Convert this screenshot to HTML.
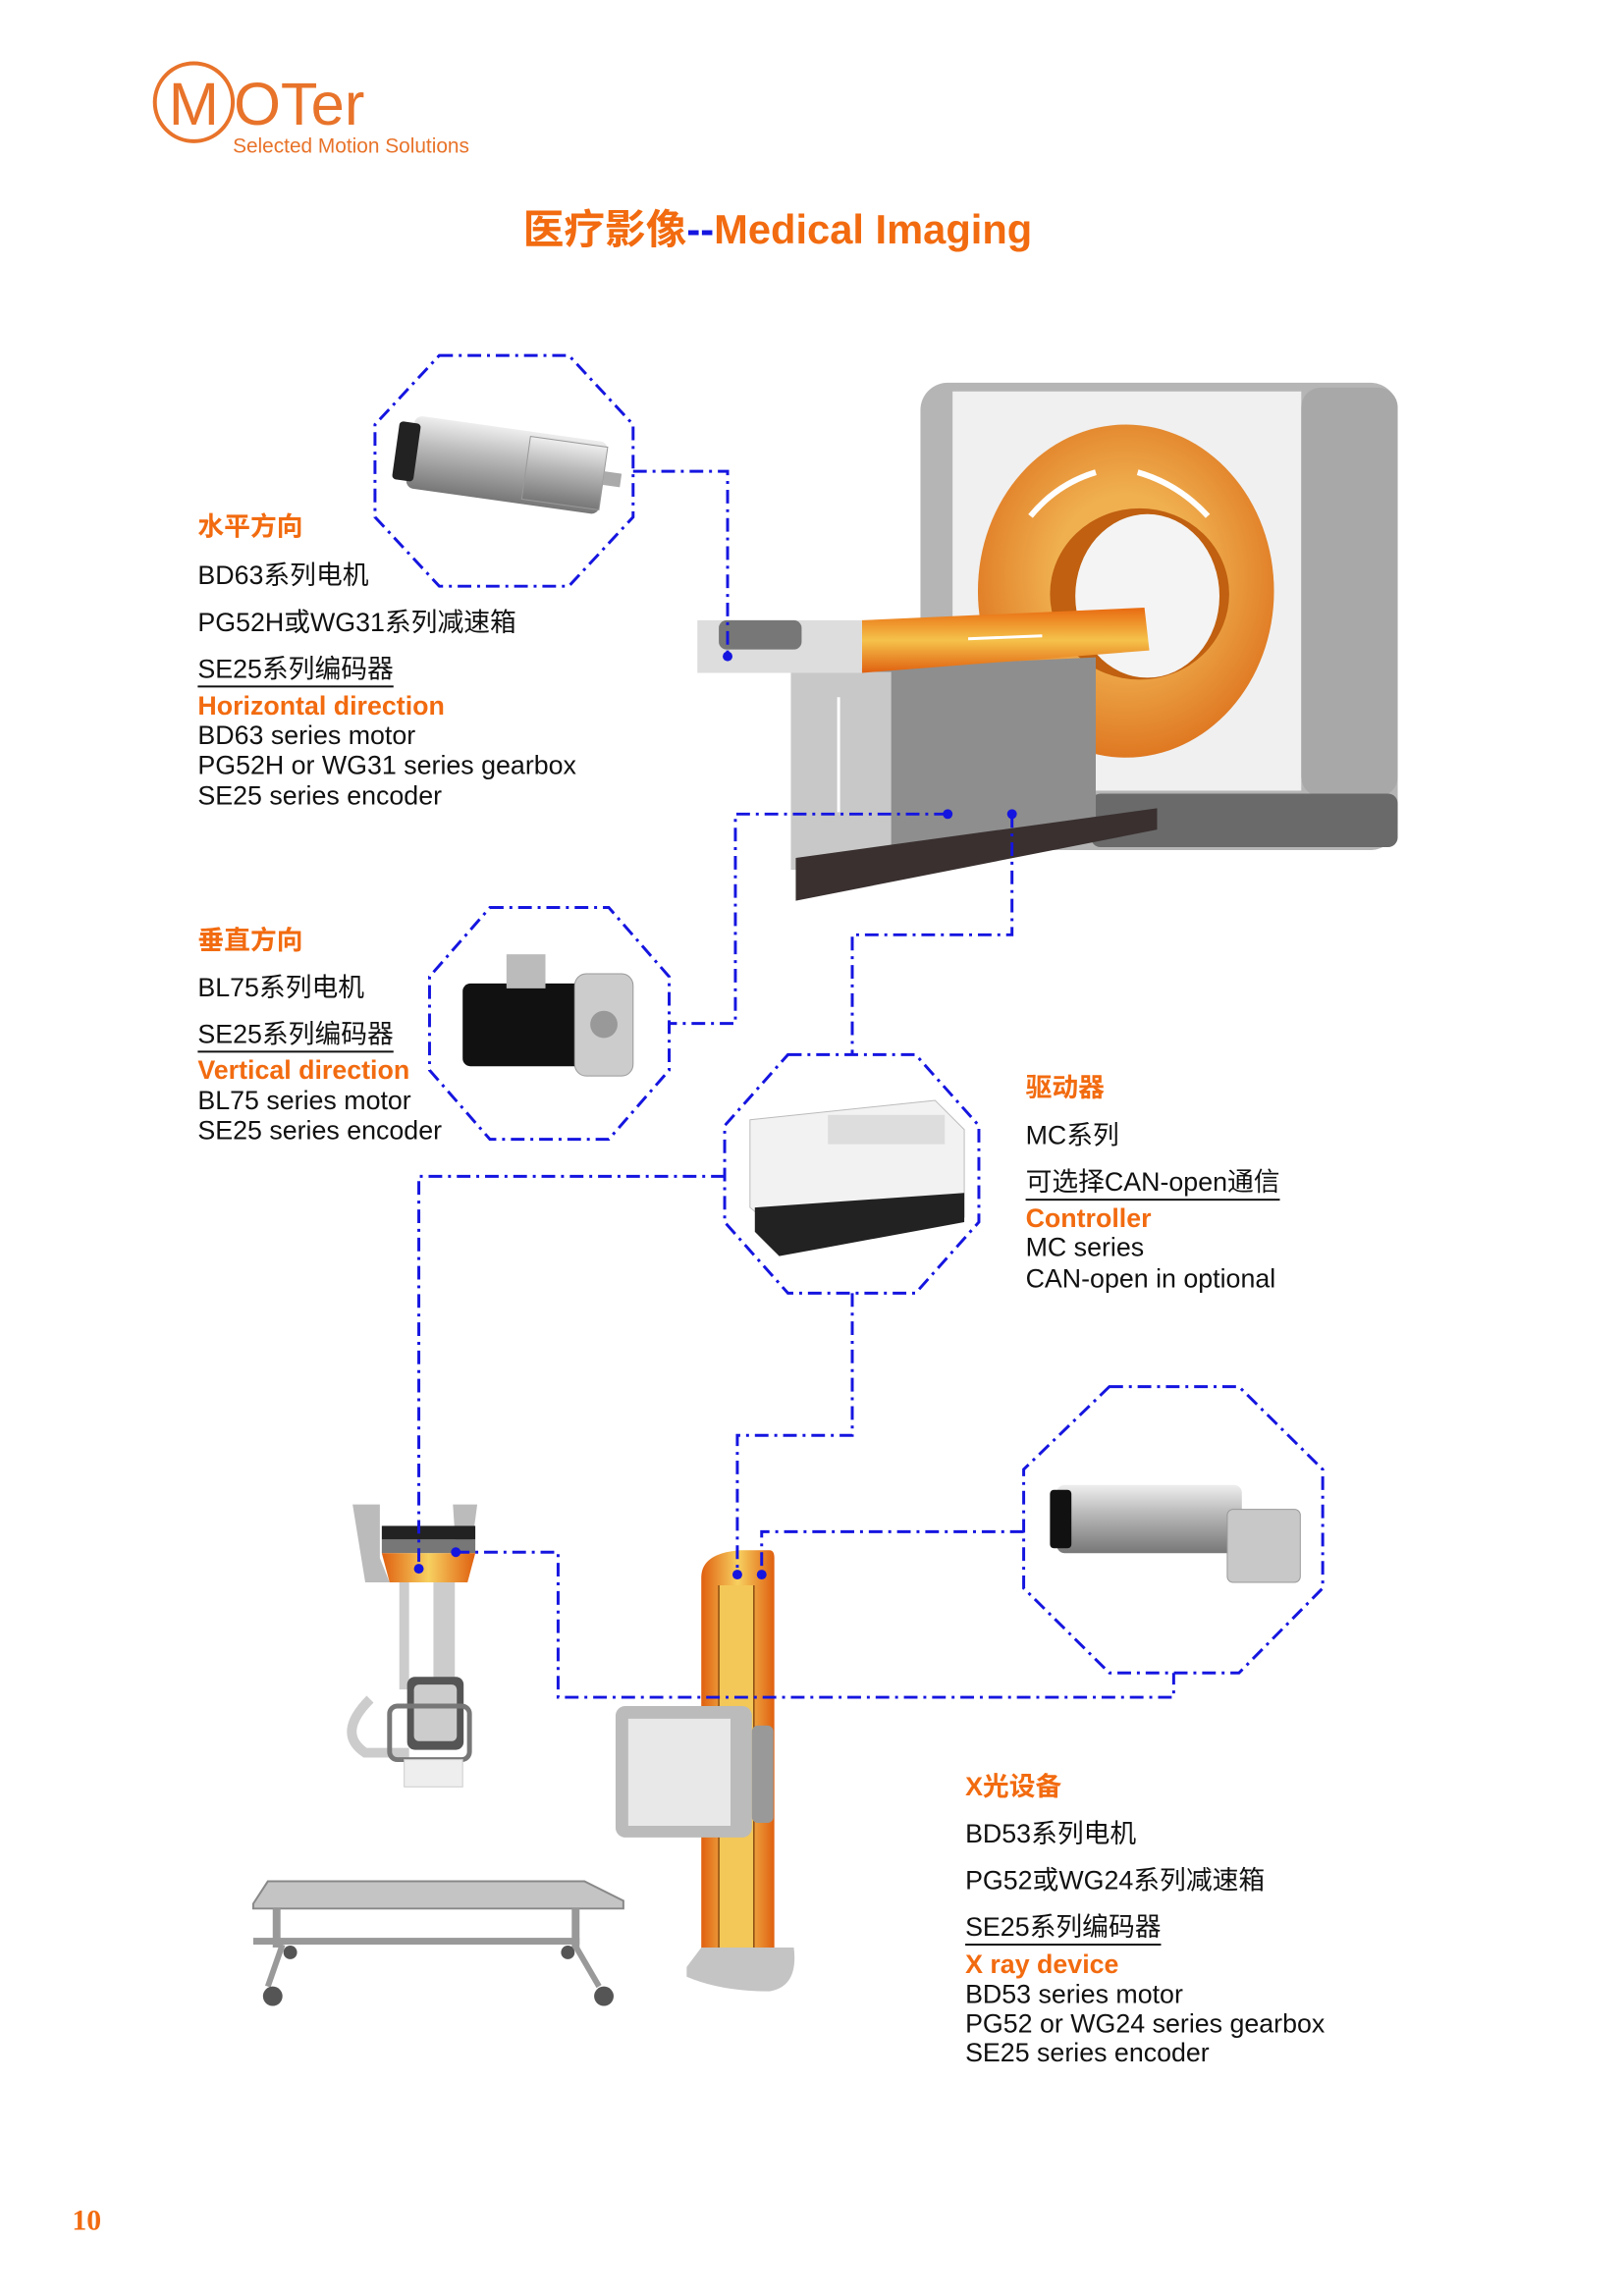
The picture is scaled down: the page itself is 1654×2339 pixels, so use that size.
<!DOCTYPE html>
<html><head><meta charset="utf-8"><style>
body{margin:0;background:#fff}
#p{position:relative;width:1654px;height:2339px;overflow:hidden;background:#fff;font-family:"Liberation Sans","Noto Sans CJK SC",sans-serif}
#w{position:absolute;left:0;top:0;width:1654px;height:2339px;transform:scale(0.992);transform-origin:0 0}
.t{position:absolute;white-space:nowrap;color:#111;font-size:27px;line-height:30px}
.o{color:#f26b10;font-weight:bold}
.u{border-bottom:2px solid #111;padding-bottom:2px}
svg{position:absolute;left:0;top:0}
</style></head><body><div id="p"><div id="w">
<svg width="1654" height="2339" viewBox="0 0 1654 2339">
<defs>
<linearGradient id="cyl" x1="0" y1="0" x2="0" y2="1"><stop offset="0" stop-color="#eee"/><stop offset=".4" stop-color="#bbb"/><stop offset="1" stop-color="#777"/></linearGradient>
<linearGradient id="org" x1="0" y1="0" x2="0" y2="1"><stop offset="0" stop-color="#e86a10"/><stop offset=".5" stop-color="#f5c24a"/><stop offset="1" stop-color="#e06010"/></linearGradient>
<linearGradient id="orgh" x1="0" y1="0" x2="1" y2="0"><stop offset="0" stop-color="#e06010"/><stop offset=".5" stop-color="#f7d060"/><stop offset="1" stop-color="#e06010"/></linearGradient>
<radialGradient id="ring" cx=".5" cy=".45" r=".6"><stop offset=".4" stop-color="#f0b050"/><stop offset="1" stop-color="#dc6f1a"/></radialGradient>
</defs>
<!-- logo -->
<circle cx="199" cy="105" r="40" fill="none" stroke="#e8732a" stroke-width="4"/>
<text x="199" y="128" font-family="Liberation Sans" font-size="62" fill="#e8732a" text-anchor="middle">M</text>
<text x="240" y="128" font-family="Liberation Sans" font-size="62" fill="#e8732a">OTer</text>
<text x="239" y="157" font-family="Liberation Sans" font-size="21" fill="#e8732a">Selected Motion Solutions</text>
<!-- CT scanner -->
<rect x="945" y="393" width="490" height="480" rx="28" fill="#b5b5b5"/>
<rect x="978" y="402" width="358" height="410" fill="#f0f0f0"/>
<rect x="1336" y="398" width="99" height="420" rx="20" fill="#a8a8a8"/>
<rect x="1120" y="815" width="315" height="55" rx="10" fill="#6a6a6a"/>
<ellipse cx="1156" cy="607" rx="152" ry="171" fill="url(#ring)"/>
<ellipse cx="1170" cy="610" rx="92" ry="88" fill="#c06010"/>
<ellipse cx="1178" cy="612" rx="74" ry="84" fill="#f4f4f4"/>
<path d="M1125 485 Q1085 497 1058 530" stroke="#fff" stroke-width="6" fill="none"/>
<path d="M1168 485 Q1210 497 1240 530" stroke="#fff" stroke-width="6" fill="none"/>
<polygon points="812,690 1125,675 1125,862 915,893 812,893" fill="#8e8e8e"/>
<polygon points="812,690 915,690 915,893 812,893" fill="#c8c8c8"/>
<polygon points="817,881 1188,830 1188,852 817,925" fill="#3a3030"/>
<polygon points="885,637 1175,624 1180,668 885,691" fill="url(#org)"/>
<polygon points="716,637 885,637 885,691 716,691" fill="#ddd"/>
<rect x="738" y="637" width="85" height="30" rx="8" fill="#777"/>
<line x1="861" y1="716" x2="861" y2="834" stroke="#fff" stroke-width="3"/>
<line x1="994" y1="656" x2="1070" y2="653" stroke="#fff" stroke-width="3"/>
<!-- motor 1 -->
<g transform="rotate(8 520 480)">
<rect x="420" y="440" width="200" height="75" rx="8" fill="url(#cyl)"/>
<rect x="405" y="448" width="22" height="60" rx="4" fill="#222"/>
<rect x="540" y="445" width="80" height="65" fill="url(#cyl)" stroke="#999"/>
<rect x="620" y="470" width="18" height="14" fill="#aaa"/>
</g>
<!-- motor 2 -->
<rect x="475" y="1010" width="130" height="85" rx="8" fill="#111"/>
<rect x="590" y="1000" width="60" height="105" rx="12" fill="#ccc" stroke="#999"/>
<circle cx="620" cy="1052" r="14" fill="#999"/>
<rect x="520" y="980" width="40" height="35" fill="#bbb"/>
<!-- controller -->
<polygon points="770,1150 960,1130 990,1160 990,1250 800,1265 770,1240" fill="#f2f2f2" stroke="#bbb"/>
<polygon points="775,1240 990,1225 990,1255 800,1290 775,1265" fill="#222"/>
<rect x="850" y="1145" width="120" height="30" fill="#ddd"/>
<!-- motor 4 -->
<rect x="1085" y="1525" width="190" height="70" rx="8" fill="url(#cyl)"/>
<rect x="1078" y="1530" width="22" height="60" rx="4" fill="#111"/>
<rect x="1260" y="1550" width="75" height="75" rx="6" fill="#c8c8c8" stroke="#999"/>
<!-- xray ceiling unit -->
<polygon points="362,1545 390,1545 390,1600 400,1625 375,1625" fill="#bbb"/>
<polygon points="465,1545 490,1545 480,1620 470,1620" fill="#bbb"/>
<rect x="392" y="1567" width="96" height="14" fill="#222"/>
<rect x="392" y="1581" width="96" height="14" fill="#777"/>
<polygon points="392,1595 488,1595 480,1625 400,1625" fill="url(#orgh)"/>
<rect x="410" y="1625" width="10" height="110" fill="#ccc"/>
<rect x="445" y="1625" width="22" height="100" fill="#ccc"/>
<path d="M380 1745 Q345 1780 375 1800 L420 1800" stroke="#ccc" stroke-width="10" fill="none"/>
<rect x="418" y="1722" width="58" height="75" rx="8" fill="#555"/>
<rect x="425" y="1730" width="44" height="58" rx="5" fill="#ccc"/>
<rect x="400" y="1752" width="82" height="55" rx="8" fill="none" stroke="#777" stroke-width="5"/>
<rect x="415" y="1807" width="60" height="28" fill="#eee" stroke="#ccc"/>
<!-- stand -->
<path d="M720 1620 Q720 1595 760 1592 L790 1592 Q795 1592 795 1600 L795 2020 L720 2005 Z" fill="url(#orgh)"/>
<rect x="738" y="1628" width="36" height="380" fill="#f3c858"/>
<line x1="738" y1="1628" x2="738" y2="2010" stroke="#8a4a10" stroke-width="1.5"/>
<line x1="774" y1="1628" x2="774" y2="2015" stroke="#8a4a10" stroke-width="1.5"/>
<path d="M705 2020 L720 2000 L815 2000 Q820 2040 790 2045 Q740 2045 705 2030 Z" fill="#c4c4c4"/>
<rect x="632" y="1752" width="140" height="135" rx="10" fill="#bbb"/>
<rect x="645" y="1765" width="105" height="110" fill="#e8e8e8"/>
<rect x="772" y="1772" width="22" height="100" rx="6" fill="#999"/>
<!-- xray table -->
<polygon points="260,1955 275,1932 600,1932 640,1952 640,1960 260,1960" fill="#c4c4c4" stroke="#888" stroke-width="2"/>
<rect x="280" y="1960" width="8" height="40" fill="#999"/>
<rect x="587" y="1960" width="8" height="40" fill="#999"/>
<rect x="260" y="1990" width="335" height="7" fill="#999"/>
<line x1="290" y1="1997" x2="275" y2="2040" stroke="#999" stroke-width="6"/>
<line x1="590" y1="1997" x2="615" y2="2040" stroke="#999" stroke-width="6"/>
<circle cx="280" cy="2050" r="10" fill="#555"/>
<circle cx="620" cy="2050" r="10" fill="#555"/>
<circle cx="298" cy="2005" r="7" fill="#555"/>
<circle cx="583" cy="2005" r="7" fill="#555"/>
<!-- octagons & connectors -->
<g fill="none" stroke="#1515e0" stroke-width="3" stroke-dasharray="14 6 3 6">
<polygon points="451,365 584,365 650,436 650,531 584,602 451,602 385,531 385,436"/>
<polygon points="503,932 625,932 687,1003 687,1099 625,1170 503,1170 441,1099 441,1003"/>
<polygon points="809,1083 940,1083 1005,1156 1005,1255 940,1328 809,1328 744,1255 744,1156"/>
<polygon points="1139,1424 1272,1424 1358,1509 1358,1631 1272,1718 1139,1718 1051,1631 1051,1509"/>
<polyline points="650,484 747,484 747,674"/>
<polyline points="973,836 755,836 755,1051 687,1051"/>
<polyline points="1039,836 1039,960 875,960 875,1083"/>
<polyline points="744,1208 430,1208 430,1611"/>
<polyline points="468,1594 573,1594 573,1743 1205,1743 1205,1718"/>
<polyline points="875,1328 875,1474 757,1474 757,1617"/>
<polyline points="1051,1573 782,1573 782,1617"/>
</g>
<g fill="#1515e0">
<circle cx="747" cy="674" r="5"/><circle cx="973" cy="836" r="5"/><circle cx="1039" cy="836" r="5"/>
<circle cx="430" cy="1611" r="5"/><circle cx="468" cy="1594" r="5"/><circle cx="757" cy="1617" r="5"/><circle cx="782" cy="1617" r="5"/>
</g>
</svg>
<div class="t" style="left:537px;top:212px;font-size:42px;line-height:48px;font-weight:bold;color:#f26b10">医疗影像<span style="color:#1515e0">--</span>Medical Imaging</div>

<div class="t o" style="left:203px;top:526px">水平方向</div>
<div class="t" style="left:203px;top:576px">BD63系列电机</div>
<div class="t" style="left:203px;top:624px">PG52H或WG31系列减速箱</div>
<div class="t" style="left:203px;top:672px"><span class="u">SE25系列编码器</span></div>
<div class="t o" style="left:203px;top:710px">Horizontal direction</div>
<div class="t" style="left:203px;top:740px">BD63 series motor</div>
<div class="t" style="left:203px;top:771px">PG52H or WG31 series gearbox</div>
<div class="t" style="left:203px;top:802px">SE25 series encoder</div>

<div class="t o" style="left:203px;top:951px">垂直方向</div>
<div class="t" style="left:203px;top:999px">BL75系列电机</div>
<div class="t" style="left:203px;top:1047px"><span class="u">SE25系列编码器</span></div>
<div class="t o" style="left:203px;top:1084px">Vertical direction</div>
<div class="t" style="left:203px;top:1115px">BL75 series motor</div>
<div class="t" style="left:203px;top:1146px">SE25 series encoder</div>

<div class="t o" style="left:1053px;top:1102px">驱动器</div>
<div class="t" style="left:1053px;top:1151px">MC系列</div>
<div class="t" style="left:1053px;top:1199px"><span class="u">可选择CAN-open通信</span></div>
<div class="t o" style="left:1053px;top:1236px">Controller</div>
<div class="t" style="left:1053px;top:1266px">MC series</div>
<div class="t" style="left:1053px;top:1298px">CAN-open in optional</div>

<div class="t o" style="left:991px;top:1820px">X光设备</div>
<div class="t" style="left:991px;top:1868px">BD53系列电机</div>
<div class="t" style="left:991px;top:1916px">PG52或WG24系列减速箱</div>
<div class="t" style="left:991px;top:1964px"><span class="u">SE25系列编码器</span></div>
<div class="t o" style="left:991px;top:2002px">X ray device</div>
<div class="t" style="left:991px;top:2033px">BD53 series motor</div>
<div class="t" style="left:991px;top:2063px">PG52 or WG24 series gearbox</div>
<div class="t" style="left:991px;top:2093px">SE25 series encoder</div>

<div class="t" style="left:74px;top:2266px;font-family:'Liberation Serif',serif;font-weight:bold;color:#f26b10;font-size:30px">10</div>
</div></div></body></html>
